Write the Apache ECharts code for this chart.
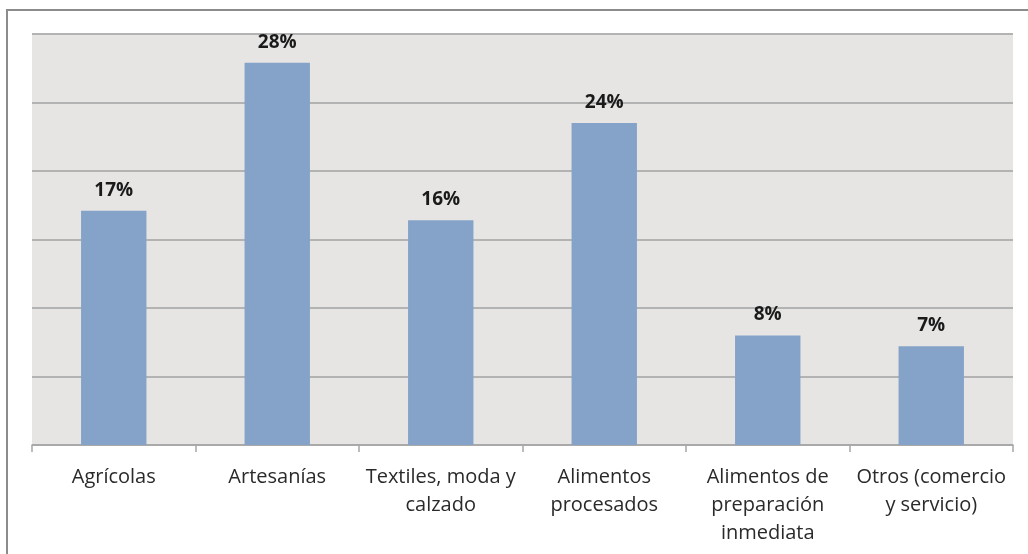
<!DOCTYPE html>
<html>
<head>
<meta charset="utf-8">
<script src="https://cdn.jsdelivr.net/npm/echarts@6/dist/echarts.min.js"></script>
<style>
html,body{margin:0;padding:0;background:#fff;}
#chart{width:1028px;height:554px;}
</style>
</head>
<body>
<div id="chart"></div>
<script>
// Data
const categories = [
  "Agrícolas",
  "Artesanías",
  "Textiles, moda y\ncalzado",
  "Alimentos\nprocesados",
  "Alimentos de\npreparación\ninmediata",
  "Otros (comercio\ny servicio)"
];
const values = [17.1, 27.9, 16.4, 23.5, 8.0, 7.2];
const valueLabels = ["17%", "28%", "16%", "24%", "8%", "7%"];
const yTicks = [0, 5, 10, 15, 20, 25, 30];

const chart = echarts.init(document.getElementById('chart'), null, {renderer: 'canvas'});
chart.setOption({
  backgroundColor: '#ffffff',
  animation: false,
  graphic: [{
    type: 'rect',
    shape: {x: 7, y: 10, width: 1200, height: 700},
    style: {fill: 'none', stroke: '#8c8c8c', lineWidth: 2},
    silent: true,
    z: -1
  }],
  grid: {
    left: 32, right: 15, top: 34, bottom: 109,
    show: true, backgroundColor: '#E6E5E4', borderWidth: 0
  },
  xAxis: {
    type: 'category',
    data: categories,
    axisLine: {show: true, lineStyle: {color: '#a6a6a6', width: 1.5}},
    axisTick: {show: true, alignWithLabel: false, length: 7, lineStyle: {color: '#a6a6a6', width: 1.5}},
    axisLabel: {
      interval: 0,
      margin: 18,
      color: '#2a2a2a',
      fontFamily: 'Open Sans',
      fontSize: 20,
      lineHeight: 28
    },
    splitLine: {show: false}
  },
  yAxis: {
    type: 'value',
    min: yTicks[0],
    max: yTicks[yTicks.length - 1],
    interval: yTicks[1] - yTicks[0],
    axisLine: {show: false},
    axisTick: {show: false},
    axisLabel: {show: false},
    splitLine: {show: true, lineStyle: {color: '#b3b3b3', width: 2}}
  },
  series: [{
    type: 'bar',
    data: values,
    barWidth: '40%',
    itemStyle: {color: '#85A3C9'},
    label: {
      show: true,
      position: 'top',
      distance: 11,
      color: '#1a1a1a',
      fontFamily: 'Open Sans',
      fontWeight: 'bold',
      fontSize: 19,
      formatter: p => valueLabels[p.dataIndex]
    }
  }]
});
</script>
</body>
</html>
